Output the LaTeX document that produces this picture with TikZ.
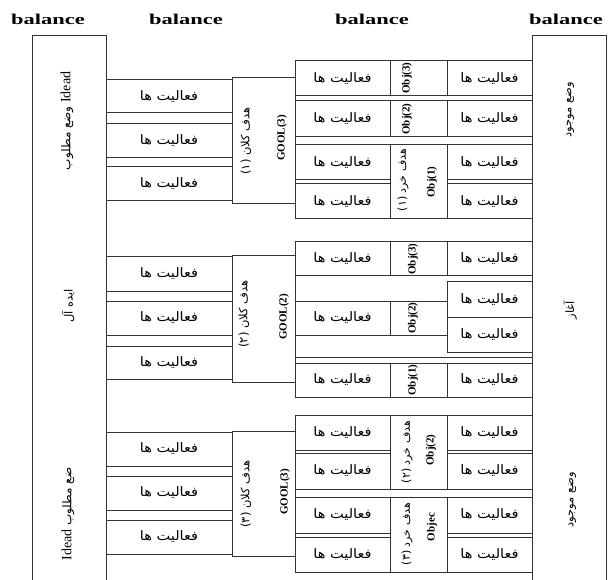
\documentclass[tikz,border=0pt]{standalone}
\usepackage{fontspec}
\usepackage{graphicx}
\setmainfont{Liberation Serif}
\newfontfamily\arabicfont[Script=Arabic]{DejaVu Sans}
\TeXXeTstate=1
\newcommand{\fa}{\scalebox{1.12}[1]{\beginR فعالیت ها\endR}}
\tikzset{
 ln/.style={draw=black!80, line width=1pt},
 bx/.style={ln, inner sep=0pt, outer sep=0pt, font=\arabicfont\fontsize{13}{15}\selectfont},
 bal/.style={font=\bfseries\fontsize{15}{18}\selectfont, xscale=1.5, inner sep=0pt, anchor=base},
 rl/.style={rotate=90, inner sep=0pt, font=\bfseries\fontsize{11}{13}\selectfont},
 ra/.style={rotate=90, inner sep=0pt, font=\arabicfont\fontsize{11.5}{13}\selectfont},
 rb/.style={rotate=90, inner sep=0pt, font=\arabicfont\fontsize{11}{13}\selectfont},
 big/.style={rotate=90, inner sep=0pt, font=\fontsize{14}{16}\selectfont},
 biga/.style={rotate=90, inner sep=0pt, font=\arabicfont\fontsize{11.5}{13}\selectfont},
}
\newcommand{\bxn}[6]{\node[bx, minimum width={(#4-#2)*1pt}, minimum height={(#5-#3)*1pt}] (#1) at ({(#2+#4)/2},{(#3+#5)/2}) {#6};}
\begin{document}
\begin{tikzpicture}[x=1pt,y=-1pt]
\useasboundingbox (0,0) rectangle (608,580);
% headers
\node[bal] (bal1) at (48,25) {balance};
\node[bal] (bal2) at (186,25) {balance};
\node[bal] (bal3) at (372,25) {balance};
\node[bal] (bal4) at (566,25) {balance};
% ---------- group 1
\bxn{a1}{106}{80}{232}{113}{\fa}
\bxn{a2}{106}{124}{232}{158}{\fa}
\bxn{a3}{106}{167}{232}{201}{\fa}
\bxn{g1}{232}{78}{295}{204}{}
\draw[ln] (295,61) -- (295,219);
\bxn{m11}{295}{61}{390}{96}{\fa}
\bxn{o11}{390}{61}{447}{96}{}
\bxn{n11}{447}{61}{532}{96}{\fa}
\bxn{m12}{295}{101}{390}{137}{\fa}
\bxn{o12}{390}{101}{447}{137}{}
\bxn{n12}{447}{101}{532}{137}{\fa}
\bxn{m13}{295}{145}{390}{180}{\fa}
\bxn{n13}{447}{145}{532}{180}{\fa}
\bxn{m14}{295}{184}{390}{219}{\fa}
\bxn{n14}{447}{184}{532}{219}{\fa}
\bxn{o13}{390}{145}{447}{219}{}
\node[ra] (g1a) at (246,141) {(۱) \beginR هدف کلان\endR};
\node[rl] (g1b) at (282,138) {GOOL(3)};
\node[rl] (t11) at (407,78) {Obj(3)};
\node[rl] (t12) at (407,119) {Obj(2)};
\node[rb] (t13a) at (403,180) {(۱) \beginR هدف خرد\endR};
\node[rl] (t13b) at (432,182) {Obj(1)};
% ---------- group 2
\bxn{b1}{106}{257}{232}{291}{\fa}
\bxn{b2}{106}{301}{232}{335}{\fa}
\bxn{b3}{106}{346}{232}{379}{\fa}
\bxn{g2}{232}{256}{295}{382}{}
\draw[ln] (295,242) -- (295,397);
\bxn{m21}{295}{242}{390}{276}{\fa}
\bxn{o21}{390}{242}{447}{276}{}
\bxn{n21}{447}{242}{532}{276}{\fa}
\bxn{m22}{295}{301}{390}{335}{\fa}
\bxn{o22}{390}{301}{447}{335}{}
\bxn{n22}{447}{282}{532}{317}{\fa}
\bxn{n23}{447}{317}{532}{352}{\fa}
\coordinate (h1) at (295,357);
\coordinate (h2) at (532,357);
\draw[ln] (h1) -- (h2);
\bxn{m23}{295}{363}{390}{397}{\fa}
\bxn{o23}{390}{363}{447}{397}{}
\bxn{n24}{447}{363}{532}{397}{\fa}
\node[ra] (g2a) at (244,314) {(۲) \beginR هدف کلان\endR};
\node[rl] (g2b) at (284,317) {GOOL(2)};
\node[rl] (t21) at (413,259) {Obj(3)};
\node[rl] (t22) at (413,318) {Obj(2)};
\node[rl] (t23) at (413,380) {Obj(1)};
% ---------- group 3
\bxn{c1}{106}{432}{232}{466}{\fa}
\bxn{c2}{106}{476}{232}{510}{\fa}
\bxn{c3}{106}{520}{232}{554}{\fa}
\bxn{g3}{232}{431}{295}{556}{}
\draw[ln] (295,415) -- (295,572);
\bxn{m31}{295}{415}{390}{450}{\fa}
\bxn{n31}{447}{415}{532}{450}{\fa}
\bxn{m32}{295}{453}{390}{489}{\fa}
\bxn{n32}{447}{453}{532}{489}{\fa}
\bxn{o31}{390}{415}{447}{489}{}
\bxn{m33}{295}{497}{390}{533}{\fa}
\bxn{n33}{447}{497}{532}{533}{\fa}
\bxn{m34}{295}{537}{390}{572}{\fa}
\bxn{n34}{447}{537}{532}{572}{\fa}
\bxn{o32}{390}{497}{447}{572}{}
\node[ra] (g3a) at (246,494) {(۳) \beginR هدف کلان\endR};
\node[rl] (g3b) at (285,492) {GOOL(3)};
\node[rb] (t31a) at (407,452) {(۲) \beginR هدف خرد\endR};
\node[rl] (t31b) at (431,450) {Obj(2)};
\node[rb] (t32a) at (407,534) {(۳) \beginR هدف خرد\endR};
\node[rl] (t32b) at (432,527) {Objec};
% ---------- side columns
\draw[ln] (32,580) -- (32,36) -- (106,36) -- (106,580);
\draw[ln] (532,580) -- (532,36) -- (606,36) -- (606,580);
\node[big] (l1) at (67,121) {{\arabicfont\fontsize{12}{14}\selectfont\beginR وضع مطلوب\endR} Idead};
\node[biga] (l2) at (68,306) {\beginR ایده آل\endR};
\node[big] (l3) at (68,514) {Idead {\arabicfont\fontsize{12}{14}\selectfont\beginR ضع مطلوب\endR}};
\node[biga] (r1) at (570,110) {\beginR وضع موجود\endR};
\node[biga] (r2) at (570,310) {\beginR آغاز\endR};
\node[biga] (r3) at (572,500) {\beginR وضع موجود\endR};
\end{tikzpicture}
\end{document}
